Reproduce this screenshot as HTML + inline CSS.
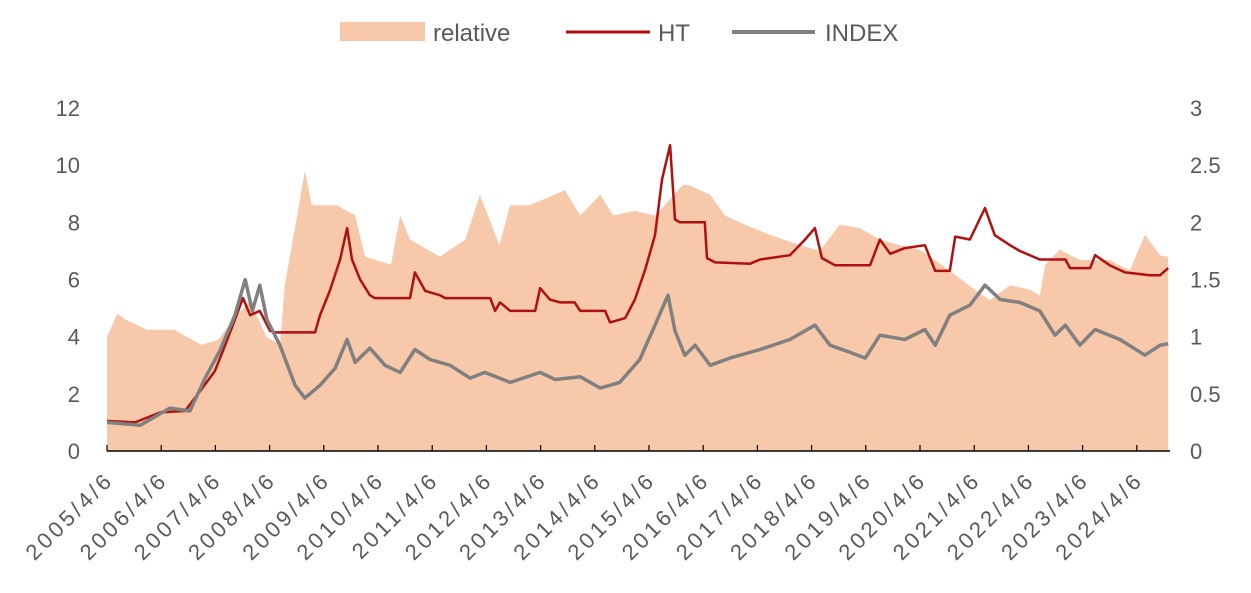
<!DOCTYPE html>
<html><head><meta charset="utf-8"><style>
body{margin:0;background:#fff;}
svg text{font-family:"Liberation Sans","Noto Sans CJK SC",sans-serif;fill:#595959;}
</style></head><body>
<svg id="chart" width="1251" height="588" viewBox="0 0 1251 588" xmlns="http://www.w3.org/2000/svg">
<g id="legend">
 <rect x="340" y="22" width="85" height="19" fill="#f7c9aa"/>
 <text x="433" y="41" font-size="24">relative</text>
 <line x1="566" y1="32" x2="650" y2="32" stroke="#b01010" stroke-width="3"/>
 <text x="658" y="41" font-size="24">HT</text>
 <line x1="732" y1="32" x2="815" y2="32" stroke="#808080" stroke-width="4"/>
 <text x="825" y="41" font-size="24">INDEX</text>
</g>
<g id="plot"></g>
</svg>
<script>
const tickYears = [2005,2006,2007,2008,2009,2010,2011,2012,2013,2014,2015,2016,2017,2018,2019,2020,2021,2022,2023,2024];
const leftTicks = [0,2,4,6,8,10,12];
const rightTicks = [0,0.5,1,1.5,2,2.5,3];
const rightTickLabels = ["0","0.5","1","1.5","2","2.5","3"];

const relDates = [2005.26,2005.45,2005.6,2006.0,2006.5,2007.0,2007.3,2007.6,2007.9,2008.2,2008.45,2008.54,2008.82,2008.91,2009.04,2009.5,2009.84,2010.02,2010.5,2010.67,2010.85,2011.4,2011.87,2012.14,2012.5,2012.7,2013.06,2013.71,2013.99,2014.36,2014.6,2015.0,2015.37,2015.46,2015.89,2016.02,2016.39,2016.66,2017.03,2017.49,2018.05,2018.41,2018.78,2019.15,2019.52,2019.89,2020.26,2020.54,2020.91,2021.27,2021.55,2021.92,2022.29,2022.47,2022.57,2022.84,2023.21,2023.76,2024.13,2024.41,2024.69,2024.84];
const relValues = [1.0,1.2,1.15,1.06,1.06,0.93,0.97,1.15,1.32,1.0,0.93,1.45,2.2,2.45,2.15,2.15,2.06,1.7,1.63,2.06,1.85,1.7,1.85,2.24,1.8,2.15,2.15,2.28,2.06,2.24,2.06,2.1,2.06,2.1,2.33,2.32,2.24,2.06,1.98,1.89,1.8,1.75,1.98,1.95,1.85,1.8,1.76,1.67,1.54,1.41,1.32,1.45,1.41,1.36,1.63,1.76,1.67,1.67,1.58,1.89,1.71,1.7];

const htDates = [2005.26,2005.78,2006.24,2006.7,2006.98,2007.25,2007.44,2007.62,2007.77,2007.9,2008.08,2008.27,2008.36,2009.1,2009.19,2009.37,2009.56,2009.69,2009.78,2009.93,2010.11,2010.2,2010.85,2010.94,2011.13,2011.4,2011.5,2012.33,2012.42,2012.51,2012.7,2013.16,2013.25,2013.43,2013.62,2013.89,2013.99,2014.45,2014.54,2014.82,2015.0,2015.19,2015.37,2015.5,2015.65,2015.74,2015.83,2016.29,2016.33,2016.48,2017.12,2017.31,2017.86,2018.14,2018.32,2018.45,2018.69,2019.34,2019.52,2019.71,2019.98,2020.35,2020.54,2020.81,2020.91,2021.18,2021.46,2021.64,2021.92,2022.1,2022.47,2022.94,2023.03,2023.4,2023.49,2023.76,2024.04,2024.5,2024.69,2024.84];
const htValues = [1.05,1.0,1.35,1.4,2.1,2.8,3.7,4.6,5.35,4.75,4.9,4.2,4.15,4.15,4.75,5.6,6.7,7.8,6.7,6.0,5.45,5.35,5.35,6.25,5.6,5.45,5.35,5.35,4.9,5.2,4.9,4.9,5.7,5.3,5.2,5.2,4.9,4.9,4.5,4.65,5.3,6.35,7.55,9.5,10.7,8.1,8.0,8.0,6.75,6.6,6.55,6.7,6.85,7.4,7.8,6.75,6.5,6.5,7.4,6.9,7.1,7.2,6.3,6.3,7.5,7.4,8.5,7.55,7.2,7.0,6.7,6.7,6.4,6.4,6.85,6.5,6.25,6.15,6.15,6.4];

const idxDates = [2005.26,2005.87,2006.42,2006.79,2007.07,2007.34,2007.62,2007.81,2007.94,2008.08,2008.21,2008.45,2008.73,2008.91,2009.19,2009.47,2009.69,2009.84,2010.11,2010.39,2010.67,2010.94,2011.22,2011.59,2011.96,2012.23,2012.7,2013.25,2013.53,2013.99,2014.36,2014.72,2015.09,2015.37,2015.61,2015.74,2015.92,2016.11,2016.39,2016.75,2017.31,2017.86,2018.32,2018.6,2018.97,2019.25,2019.52,2019.98,2020.35,2020.54,2020.81,2021.18,2021.46,2021.74,2022.1,2022.47,2022.75,2022.94,2023.21,2023.49,2023.95,2024.41,2024.69,2024.84];
const idxValues = [1.0,0.9,1.5,1.4,2.55,3.5,4.75,6.0,4.9,5.8,4.6,3.7,2.3,1.85,2.3,2.9,3.9,3.1,3.6,3.0,2.75,3.55,3.2,3.0,2.55,2.75,2.4,2.75,2.5,2.6,2.2,2.4,3.2,4.4,5.45,4.2,3.35,3.7,3.0,3.25,3.55,3.9,4.4,3.7,3.45,3.25,4.05,3.9,4.25,3.7,4.75,5.1,5.8,5.3,5.2,4.9,4.05,4.4,3.7,4.25,3.9,3.35,3.7,3.75];

const NS = "http://www.w3.org/2000/svg";
const plot = document.getElementById('plot');
const X0 = 107, YEAR0 = 2005.26, PXY = 54.2, Y0 = 451;
const x = d => X0 + (d - YEAR0) * PXY;
const yL = v => Y0 - v * (343 / 12);
const yR = v => Y0 - v * (343 / 3);
function mk(tag, attrs){ const e = document.createElementNS(NS, tag); for (const k in attrs) e.setAttribute(k, attrs[k]); plot.appendChild(e); return e; }

let d = `M${x(relDates[0])},${Y0}`;
relDates.forEach((t,i)=>{ d += `L${x(t).toFixed(1)},${yR(relValues[i]).toFixed(1)}`; });
d += `L${x(relDates[relDates.length-1])},${Y0}Z`;
const area = mk('path', {d, fill:'#f7c9aa'});



function line(dates, vals, color, w, name){
  const pts = dates.map((t,i)=>`${x(t).toFixed(1)},${yL(vals[i]).toFixed(1)}`).join(' ');
  const p = mk('polyline', {points:pts, fill:'none', stroke:color, 'stroke-width':w, 'stroke-linejoin':'round'});
  
  
}
line(htDates, htValues, '#b01010', 2.5, 'ht-line');
line(idxDates, idxValues, '#808080', 3.5, 'index-line');

const ax = mk('line', {x1:107, y1:Y0, x2:1170, y2:Y0, stroke:'#000', 'stroke-width':1.5});


tickYears.forEach(yr=>{
  const tx = x(yr + 0.26);
  const t = mk('line', {x1:tx, y1:Y0, x2:tx, y2:Y0-6, stroke:'#000', 'stroke-width':1.2});
  
  
  const lb = mk('text', {x:0, y:0, 'font-size':22, 'letter-spacing':3.5, 'text-anchor':'end', transform:`translate(${tx+8},${Y0+30}) rotate(-45)`});
  lb.textContent = yr + '/4/6';
  
  
});
leftTicks.forEach(v=>{
  const lb = mk('text', {x:80, y:yL(v)+8, 'font-size':22, 'text-anchor':'end'});
  lb.textContent = v;
  
  
});
rightTicks.forEach((v,i)=>{
  const lb = mk('text', {x:1190, y:yR(v)+8, 'font-size':22});
  lb.textContent = rightTickLabels[i];
  
  
});
</script>
</body></html>
